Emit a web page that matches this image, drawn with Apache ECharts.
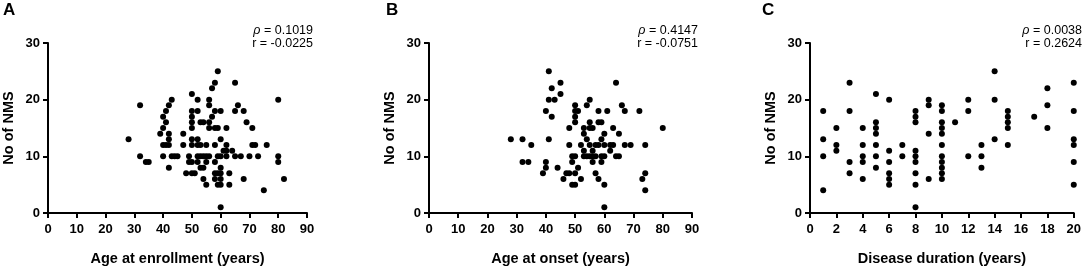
<!DOCTYPE html>
<html>
<head>
<meta charset="utf-8">
<script src="https://cdn.jsdelivr.net/npm/echarts@6/dist/echarts.min.js"></script>
<style>
  html, body { margin: 0; padding: 0; background: #fff; }
  #chart { width: 1084px; height: 271px; }
</style>
</head>
<body>
<div id="chart"></div>
<script>
// panel letters, axis names, stats
var panelLetters = ['A', 'B', 'C'];
var xNames = ['Age at enrollment (years)', 'Age at onset (years)', 'Disease duration (years)'];
var yName = 'No of NMS';
var pValues = ['0.1019', '0.4147', '0.0038'];
var rValues = ['-0.0225', '-0.0751', '0.2624'];
var xMax = [90, 90, 20];
var xInterval = [10, 10, 2];

// A: age at enrollment vs number of NMS
var enrollPoints = [
	[28,13],[32,19],[32,10],[34,9],[35,9],[39,14],[40,17],[40,15],[40,12],[40,10],
	[41,18],[41,16],[41,12],[42,19],[42,14],[42,13],[42,12],[42,8],[43,20],[43,10],
	[44,10],[45,10],[47,14],[47,12],[48,7],[49,10],[49,9],[50,21],[50,18],[50,17],
	[50,16],[50,15],[50,13],[50,12],[50,9],[50,7],[51,7],[52,20],[52,18],[52,13],
	[52,12],[52,10],[52,9],[53,16],[53,12],[53,10],[53,8],[54,16],[54,10],[54,8],
	[54,6],[55,12],[55,10],[55,9],[55,5],[56,20],[56,19],[56,16],[56,15],[56,10],
	[57,22],[57,17],[58,23],[58,18],[58,15],[58,12],[58,9],[58,7],[58,6],[59,25],
	[59,15],[59,10],[59,7],[59,5],[60,18],[60,13],[60,10],[60,8],[60,7],[60,6],
	[60,5],[60,1],[61,11],[62,15],[62,12],[62,11],[62,10],[63,7],[63,5],[64,11],
	[65,23],[65,18],[65,10],[66,19],[67,10],[68,18],[68,6],[69,16],[70,10],[71,15],
	[71,12],[72,12],[73,10],[75,4],[76,12],[80,20],[80,10],[80,9],[82,6]
];
// B: age at onset vs number of NMS
var onsetPoints = [
	[28,13],[32,13],[35,12],[32,9],[34,9],[39,7],[40,18],[40,9],[40,8],[41,25],
	[41,20],[41,13],[42,22],[42,17],[43,20],[44,8],[45,23],[45,21],[46,6],[47,7],
	[48,7],[48,15],[48,12],[49,10],[49,9],[49,5],[50,19],[50,18],[50,17],[50,16],
	[50,10],[50,7],[50,5],[51,18],[51,8],[52,12],[52,6],[53,15],[53,14],[53,11],
	[53,10],[54,19],[54,13],[54,10],[55,20],[55,16],[55,15],[55,12],[55,10],[56,15],
	[56,11],[56,10],[56,9],[57,12],[57,10],[57,7],[58,18],[58,16],[58,12],[58,6],
	[59,16],[59,13],[59,10],[59,9],[60,14],[60,12],[60,10],[60,5],[60,1],[61,18],
	[62,12],[62,11],[63,15],[63,12],[64,23],[64,10],[65,14],[65,10],[66,19],[67,18],
	[67,12],[69,12],[72,18],[73,6],[74,12],[74,7],[74,4],[80,15]
];
// C: disease duration vs number of NMS
var durationPoints = [
	[1,18],[1,13],[1,10],[1,4],[2,15],[2,12],[2,11],[3,23],[3,18],[3,9],[3,7],
	[4,15],[4,12],[4,10],[4,9],[4,6],[5,21],[5,16],[5,15],[5,14],[5,12],[5,10],[5,8],
	[6,20],[6,11],[6,9],[6,7],[6,6],[6,5],[7,12],[7,10],
	[8,18],[8,17],[8,16],[8,11],[8,10],[8,9],[8,7],[8,5],[8,1],
	[9,20],[9,19],[9,14],[9,6],
	[10,19],[10,18],[10,16],[10,15],[10,14],[10,12],[10,10],[10,9],[10,8],[10,7],[10,6],
	[11,16],[12,20],[12,18],[12,10],[13,12],[13,10],[13,8],[14,25],[14,20],[14,13],
	[15,18],[15,17],[15,16],[15,15],[15,12],[17,17],[18,22],[18,19],[18,15],
	[20,23],[20,18],[20,13],[20,12],[20,9],[20,5]
];
var allPoints = [enrollPoints, onsetPoints, durationPoints];

var myChart;
var gridLeft = [45, 429, 810];
var gridWidth = [262, 263, 264];
var letterLeft = [3, 386, 762];
var statRight = [313, 698, 1082];
var font = 'Liberation Sans, Arial, sans-serif';

chartInit();
// 初始化
function chartInit() {
	myChart = echarts.init(document.getElementById('chart'), null, { renderer: 'canvas' });
	chartSetting();
}
// 组装三块散点图
function chartSetting() {
	var grids = [], xAxes = [], yAxes = [], series = [], titles = [];
	for (var i = 0; i < 3; i++) {
		grids.push({ left: gridLeft[i], width: gridWidth[i], top: 43, height: 174 });
		xAxes.push({
			gridIndex: i, type: 'value', min: 0, max: xMax[i], interval: xInterval[i],
			name: xNames[i], nameLocation: 'middle', nameGap: 38,
			nameTextStyle: { fontFamily: font, fontWeight: 'bold', fontSize: 14.5, color: '#000' },
			axisLine: { lineStyle: { color: '#000', width: 2 } },
			axisTick: { show: true, length: 5, lineStyle: { color: '#000', width: 2 } },
			axisLabel: { margin: 10, fontFamily: font, fontWeight: 'bold', fontSize: 13, color: '#000' },
			splitLine: { show: false }
		});
		yAxes.push({
			gridIndex: i, type: 'value', min: 0, max: 30, interval: 10,
			name: yName, nameLocation: 'middle', nameGap: 32,
			nameTextStyle: { fontFamily: font, fontWeight: 'bold', fontSize: 14.5, color: '#000' },
			axisLine: { show: true, lineStyle: { color: '#000', width: 2 } },
			axisTick: { show: true, length: 5, lineStyle: { color: '#000', width: 2 } },
			axisLabel: { margin: 8, fontFamily: font, fontWeight: 'bold', fontSize: 13, color: '#000' },
			splitLine: { show: false }
		});
		series.push({
			type: 'scatter', xAxisIndex: i, yAxisIndex: i,
			symbol: 'circle', symbolSize: 6, clip: false,
			itemStyle: { color: '#000', opacity: 1 },
			data: allPoints[i]
		});
		titles.push({
			text: panelLetters[i], left: letterLeft[i], top: 2, padding: 0,
			textStyle: { fontFamily: font, fontWeight: 'bold', fontSize: 17, color: '#000' }
		});
		titles.push({
			text: '{i|ρ} = ' + pValues[i] + '\nr = ' + rValues[i],
			left: statRight[i], top: 24, padding: 0, textAlign: 'right',
			textStyle: {
				fontFamily: font, fontSize: 12.5, fontWeight: 'normal', color: '#000', lineHeight: 13,
				rich: { i: { fontFamily: font, fontSize: 12.5, fontStyle: 'italic', color: '#000' } }
			}
		});
	}
	var option = {
		animation: false,
		backgroundColor: '#fff',
		title: titles,
		grid: grids,
		xAxis: xAxes,
		yAxis: yAxes,
		series: series
	};
	myChart.setOption(option);
}
</script>
</body>
</html>
